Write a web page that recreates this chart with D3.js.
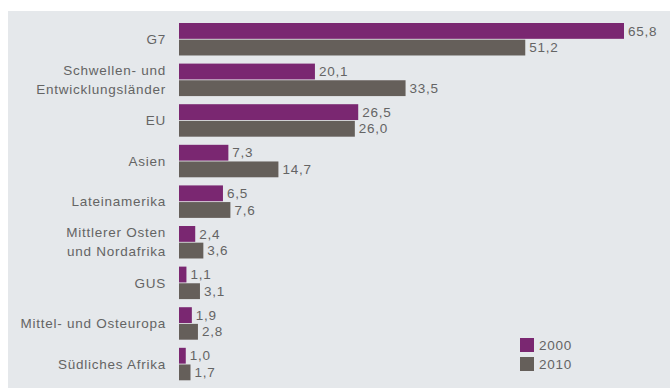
<!DOCTYPE html>
<html>
<head>
<meta charset="utf-8">
<script src="https://cdn.jsdelivr.net/npm/d3@7"></script>
<style>
  body { margin: 0; background: #fff; }
  svg { display: block; font-family: "Liberation Sans", Arial, sans-serif; }
  text { letter-spacing: 0.75px; }
</style>
</head>
<body>
<svg id="chart"></svg>
<script>
// data
const categories = [
  ['G7'],
  ['Schwellen- und', 'Entwicklungsländer'],
  ['EU'],
  ['Asien'],
  ['Lateinamerika'],
  ['Mittlerer Osten', 'und Nordafrika'],
  ['GUS'],
  ['Mittel- und Osteuropa'],
  ['Südliches Afrika']
];
const years = ['2000', '2010'];
const values2000 = [65.8, 20.1, 26.5, 7.3, 6.5, 2.4, 1.1, 1.9, 1.0];
const values2010 = [51.2, 33.5, 26.0, 14.7, 7.6, 3.6, 3.1, 2.8, 1.7];
const colors = ['#7a2771', '#655f5a'];

const width = 670, height = 388;
const margin = { top: 23, left: 179 };

const svg = d3.select('#chart')
  .attr('width', width)
  .attr('height', height);

// panel background
svg.append('rect')
  .attr('x', 8).attr('y', 11)
  .attr('width', width - 8).attr('height', height - 11)
  .attr('fill', '#e5e8eb');

const idx = categories.map((d, i) => i);

const y = d3.scaleBand()
  .domain(idx)
  .range([margin.top, margin.top + 9 * 39.7])
  .paddingInner(0.2)
  .paddingOuter(0);

const ySub = d3.scaleBand()
  .domain(years)
  .range([0, y.bandwidth()])
  .paddingInner(0.05);

const x = d3.scaleLinear()
  .domain([0, 65.8])
  .range([margin.left, 624]);

const fmt = v => d3.format('.1f')(v).replace('.', ',');
const textColor = '#646464';

const groups = svg.append('g').selectAll('g')
  .data(idx)
  .join('g')
  .attr('transform', i => `translate(0,${y(i)})`);

const series = [values2000, values2010];

years.forEach((yr, s) => {
  groups.append('rect')
    .attr('x', x(0))
    .attr('y', ySub(yr))
    .attr('width', i => x(series[s][i]) - x(0))
    .attr('height', ySub.bandwidth())
    .attr('fill', colors[s]);

  groups.append('text')
    .attr('x', i => x(series[s][i]) + 4)
    .attr('y', ySub(yr) + ySub.bandwidth() / 2)
    .attr('dy', '0.35em')
    .attr('font-size', 13.5)
    .attr('fill', textColor)
    .text(i => fmt(series[s][i]));
});

// category labels
groups.append('text')
  .attr('text-anchor', 'end')
  .attr('font-size', 13.5)
  .attr('fill', textColor)
  .each(function(i) {
    const lines = categories[i];
    const mid = y.bandwidth() / 2;
    const lh = 19;
    d3.select(this).selectAll('tspan')
      .data(lines)
      .join('tspan')
      .attr('x', 166)
      .attr('y', (d, k) => mid + (k - (lines.length - 1) / 2) * lh)
      .attr('dy', '0.35em')
      .text(d => d);
  });

// legend
const legend = svg.append('g').attr('transform', 'translate(520,338)');
years.forEach((yr, s) => {
  legend.append('rect')
    .attr('x', 0).attr('y', s * 19)
    .attr('width', 14).attr('height', 14)
    .attr('fill', colors[s]);
  legend.append('text')
    .attr('x', 19).attr('y', s * 19 + 7)
    .attr('dy', '0.35em')
    .attr('font-size', 13.5)
    .attr('fill', textColor)
    .text(yr);
});
</script>
</body>
</html>
